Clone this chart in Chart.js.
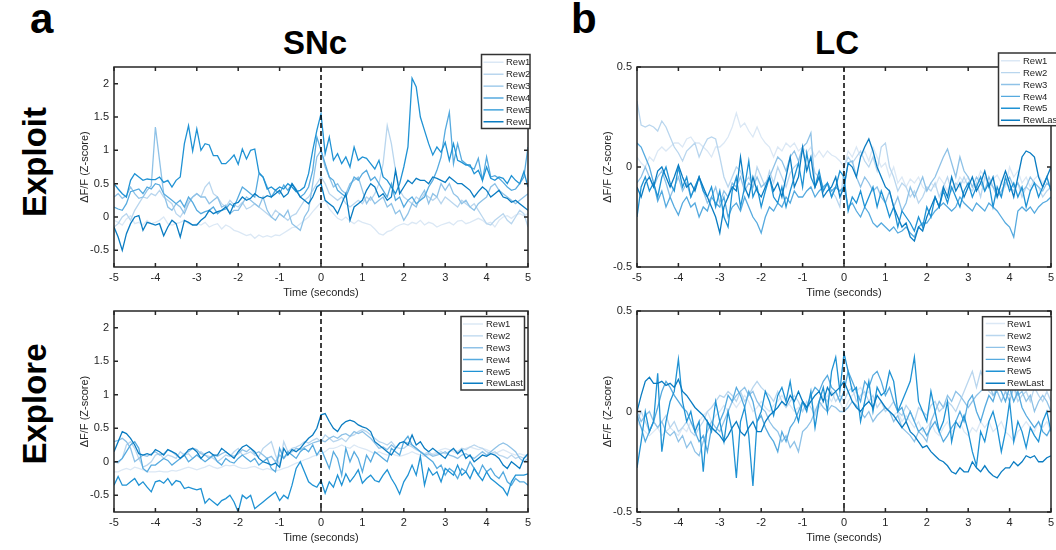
<!DOCTYPE html>
<html>
<head>
<meta charset="utf-8">
<script src="https://cdn.jsdelivr.net/npm/chart.js@4"></script>
<style>
  body { margin: 0; width: 1056px; height: 550px; overflow: hidden; background: #fff; position: relative; }
  canvas { position: absolute; }
  .lbl { position: absolute; font-family: "Liberation Sans", Arial, sans-serif; font-weight: bold; line-height: 1; white-space: nowrap; color: #000; }
  .rot { transform: translate(-50%, -50%) rotate(-90deg); }
</style>
</head>
<body>
<div class="lbl" style="left:30px;top:-2px;font-size:42px">a</div>
<div class="lbl" style="left:571px;top:-2px;font-size:42px">b</div>
<div class="lbl" style="left:315px;top:26px;font-size:33px;transform:translateX(-50%)">SNc</div>
<div class="lbl" style="left:837px;top:26px;font-size:33px;transform:translateX(-50%)">LC</div>
<div class="lbl rot" style="left:34px;top:162px;font-size:33px">Exploit</div>
<div class="lbl rot" style="left:34px;top:404px;font-size:33px">Explore</div>

<canvas id="aTop"></canvas>
<canvas id="aBot"></canvas>
<canvas id="bTop"></canvas>
<canvas id="bBot"></canvas>

<script>
// sampling times (s), shared by all traces
const timeSec = [-5,-4.9,-4.8,-4.7,-4.6,-4.5,-4.4,-4.3,-4.2,-4.1,
  -4,-3.9,-3.8,-3.7,-3.6,-3.5,-3.4,-3.3,-3.2,-3.1,
  -3,-2.9,-2.8,-2.7,-2.6,-2.5,-2.4,-2.3,-2.2,-2.1,
  -2,-1.9,-1.8,-1.7,-1.6,-1.5,-1.4,-1.3,-1.2,-1.1,
  -1,-0.9,-0.8,-0.7,-0.6,-0.5,-0.4,-0.3,-0.2,-0.1,
  0,0.1,0.2,0.3,0.4,0.5,0.6,0.7,0.8,0.9,
  1,1.1,1.2,1.3,1.4,1.5,1.6,1.7,1.8,1.9,
  2,2.1,2.2,2.3,2.4,2.5,2.6,2.7,2.8,2.9,
  3,3.1,3.2,3.3,3.4,3.5,3.6,3.7,3.8,3.9,
  4,4.1,4.2,4.3,4.4,4.5,4.6,4.7,4.8,4.9,5];

const seriesNames = ['Rew1', 'Rew2', 'Rew3', 'Rew4', 'Rew5', 'RewLast'];
const xTicks = [-5, -4, -3, -2, -1, 0, 1, 2, 3, 4, 5];
const yTicksSNc = [-0.5, 0, 0.5, 1, 1.5, 2];
const yTicksLC = [-0.5, 0, 0.5];

// SNc, exploit
const sncExploitRew1 = [-0.05,-0.08,-0.12,-0.03,0.02,-0.1,-0.08,-0.12,-0.05,-0.1,
  -0.08,-0.05,0.0,-0.1,-0.12,-0.1,-0.08,-0.05,-0.1,-0.12,
  -0.1,-0.12,-0.08,-0.15,-0.12,-0.1,-0.18,-0.12,-0.15,-0.2,
  -0.22,-0.25,-0.28,-0.26,-0.32,-0.27,-0.3,-0.28,-0.3,-0.27,
  -0.28,-0.24,-0.2,-0.16,-0.15,-0.1,-0.05,0.0,0.08,0.15,
  0.22,0.25,0.12,0.05,-0.02,-0.05,0.0,-0.06,-0.1,-0.05,
  -0.08,-0.1,-0.12,-0.18,-0.25,-0.27,-0.22,-0.2,-0.15,-0.12,
  -0.1,-0.12,-0.08,-0.1,-0.05,-0.12,-0.08,-0.1,-0.15,-0.12,
  -0.1,-0.08,-0.12,-0.06,-0.05,-0.1,-0.08,-0.05,-0.02,-0.05,
  -0.1,-0.08,-0.15,-0.05,0.0,0.02,-0.02,0.03,0.05,0.02,0.05];
const sncExploitRew2 = [-0.15,-0.1,0.0,0.05,-0.05,0.1,0.2,0.3,0.28,0.35,
  0.32,0.4,0.3,0.25,0.2,0.05,0.0,0.1,0.25,0.3,
  0.35,0.3,0.45,0.52,0.35,0.3,0.2,0.15,0.25,0.18,
  0.15,0.22,0.12,0.15,0.2,0.15,0.1,0.05,0.0,0.1,
  0.05,0.0,-0.05,0.02,0.05,0.15,0.25,0.3,0.4,0.5,
  0.6,0.5,0.35,0.3,0.25,0.3,0.2,0.15,0.2,0.25,
  0.2,0.3,0.25,0.35,0.5,0.8,1.37,1.1,0.7,0.4,
  0.3,0.25,0.2,0.3,0.25,0.35,0.3,0.25,0.3,0.2,
  0.3,0.25,0.2,0.15,0.25,0.2,0.15,0.2,0.1,0.0,
  -0.1,-0.12,-0.05,0.0,0.05,-0.05,-0.1,0.0,0.1,0.05,-0.15];
const sncExploitRew3 = [0.3,0.35,0.28,0.32,0.45,0.35,0.28,0.3,0.4,0.47,
  1.35,0.85,0.35,0.15,0.1,0.2,0.15,0.05,0.2,0.3,
  0.35,0.3,0.3,0.2,0.25,0.3,0.15,0.18,0.05,0.1,
  0.1,0.2,0.3,0.25,0.2,0.15,0.3,0.1,0.0,-0.05,
  0.05,0.0,0.1,-0.1,-0.15,-0.2,0.0,0.1,0.5,0.9,
  1.0,0.75,0.6,0.45,0.5,0.4,0.35,0.5,0.55,0.6,
  0.4,0.2,0.3,0.2,0.25,0.3,0.15,0.2,0.05,0.1,
  -0.05,0.05,0.2,0.15,0.3,0.4,0.2,0.35,0.3,0.5,
  0.4,0.5,0.35,0.3,0.2,0.25,0.15,0.1,0.2,0.25,
  0.3,0.45,0.5,0.4,0.35,0.3,0.25,0.2,0.25,0.3,0.35];
const sncExploitRew4 = [0.15,0.12,0.1,0.2,0.38,0.4,0.42,0.35,0.45,0.42,
  0.5,0.48,0.35,0.3,0.25,0.2,0.25,0.15,0.3,0.22,
  0.1,0.05,0.08,0.1,0.15,0.05,0.1,0.12,0.2,0.15,
  0.3,0.45,0.4,0.35,0.3,0.65,0.6,0.45,0.3,0.4,
  0.35,0.48,0.4,0.5,0.42,0.3,0.35,0.45,0.7,1.2,
  1.0,0.8,0.6,0.55,0.4,0.35,0.3,0.45,0.6,0.55,
  0.65,0.7,0.55,0.6,0.5,0.4,0.3,0.5,0.25,0.3,
  0.15,0.25,0.3,0.2,0.25,0.3,0.45,0.55,0.7,0.9,
  1.3,1.57,0.8,1.1,0.85,0.8,0.75,0.72,0.88,0.55,
  0.9,0.6,0.62,0.58,0.52,0.45,0.4,0.42,0.5,0.6,1.05];
const sncExploitRew5 = [0.5,0.42,0.35,0.3,0.55,0.65,0.6,0.55,0.57,0.56,
  0.56,0.6,0.52,0.55,0.45,0.55,0.6,1.1,1.37,0.99,
  1.32,1.0,1.1,1.08,0.92,0.92,0.8,0.8,0.86,0.93,
  0.79,1.02,0.87,1.0,1.02,0.67,0.6,0.42,0.45,0.4,
  0.45,0.42,0.5,0.45,0.38,0.4,0.45,0.65,1.0,1.3,
  1.55,0.95,1.2,0.85,0.95,0.8,0.9,0.75,1.05,0.85,
  0.9,0.88,0.8,0.72,0.85,0.6,0.55,0.45,0.35,0.5,
  0.75,1.05,2.08,1.95,1.5,1.3,1.1,0.93,1.05,0.97,
  1.12,0.85,1.1,0.85,0.82,0.78,0.78,0.65,0.7,0.55,
  0.75,0.58,0.55,0.6,0.58,0.5,0.62,0.55,0.5,0.68,0.45];
const sncExploitRewLast = [-0.15,-0.3,-0.5,-0.25,-0.1,0.0,0.02,-0.2,-0.08,-0.1,
  -0.12,-0.1,-0.28,-0.15,-0.05,-0.1,-0.3,-0.05,-0.08,-0.12,
  -0.12,-0.05,0.0,0.1,0.05,0.08,0.1,0.15,0.05,0.2,
  0.22,0.3,0.25,0.28,0.35,0.3,0.28,0.32,0.3,0.35,
  0.4,0.3,0.35,0.5,0.4,0.3,0.25,0.2,0.3,0.45,
  0.5,0.25,0.2,0.15,0.05,0.2,0.35,-0.05,0.15,0.2,
  0.25,0.4,0.5,0.45,0.3,0.35,0.25,0.3,0.7,0.35,
  0.45,0.55,0.5,0.58,0.55,0.55,0.5,0.6,0.58,0.55,
  0.52,0.6,0.55,0.5,0.5,0.45,0.4,0.3,0.38,0.45,
  0.4,0.3,0.35,0.4,0.3,0.28,0.22,0.25,0.2,0.15,0.1];

// SNc, explore
const sncExploreRew1 = [-0.15,-0.15,-0.12,-0.1,-0.12,-0.08,-0.1,-0.12,-0.15,-0.15,
  -0.15,-0.14,-0.15,-0.15,-0.13,-0.14,-0.12,-0.1,-0.08,-0.1,
  -0.12,-0.1,-0.08,-0.05,-0.08,-0.1,-0.08,-0.05,-0.06,-0.05,
  -0.08,-0.1,-0.1,-0.08,-0.07,-0.1,-0.12,-0.1,-0.12,-0.14,
  -0.12,-0.1,-0.08,-0.05,-0.02,0.0,0.03,0.05,0.08,0.1,
  0.12,0.15,0.2,0.2,0.22,0.25,0.22,0.2,0.25,0.22,
  0.2,0.18,0.15,0.12,0.15,0.12,0.1,0.12,0.1,0.08,
  0.1,0.12,0.15,0.12,0.1,0.08,0.1,0.12,0.15,0.18,
  0.2,0.18,0.15,0.12,0.15,0.2,0.22,0.2,0.18,0.2,
  0.18,0.15,0.12,0.15,0.18,0.15,0.12,0.1,0.12,0.1,0.1];
const sncExploreRew2 = [0.0,-0.02,0.05,0.25,0.3,0.2,0.05,-0.08,-0.05,0.0,
  0.1,0.12,0.05,0.1,0.08,0.05,0.15,0.1,0.12,0.05,
  0.1,0.15,0.1,0.08,0.05,0.0,0.05,0.1,0.08,0.15,
  0.2,0.1,0.12,0.15,0.1,0.08,0.2,0.25,0.3,0.1,
  -0.05,0.3,0.15,0.2,0.22,0.25,0.3,0.28,0.32,0.35,
  0.3,0.4,0.35,0.3,0.32,0.35,0.3,0.38,0.4,0.45,
  0.48,0.45,0.4,0.35,0.3,0.28,0.25,0.3,0.22,0.2,
  0.2,0.25,0.22,0.18,0.15,0.12,0.15,0.1,0.12,0.15,
  0.12,0.15,0.18,0.15,0.2,0.18,0.22,0.25,0.22,0.2,
  0.15,0.12,0.15,0.1,0.08,0.05,0.1,0.05,0.08,0.05,0.1];
const sncExploreRew3 = [0.3,0.32,0.35,0.3,0.2,0.0,0.05,0.1,0.08,0.12,
  0.15,0.1,0.12,0.18,0.15,0.1,0.05,0.12,0.15,0.2,
  0.18,0.12,0.1,0.05,0.1,0.08,0.12,0.15,0.1,0.08,
  0.12,0.18,0.15,0.2,0.12,0.15,0.1,0.05,0.08,0.0,
  0.1,0.05,0.12,0.15,0.2,0.18,0.22,0.25,0.28,0.3,
  0.32,0.3,0.35,0.38,0.35,0.4,0.42,0.38,0.45,0.42,
  0.45,0.4,0.35,0.28,0.2,0.22,0.18,0.25,0.2,0.28,
  0.3,0.28,0.25,0.2,0.15,0.1,0.12,0.08,0.1,0.12,
  0.15,0.1,0.08,0.05,0.1,0.12,0.08,0.05,0.1,0.15,
  0.1,0.15,0.2,0.25,0.28,0.25,0.2,0.15,0.05,0.0,0.05];
const sncExploreRew4 = [0.0,0.0,0.05,0.15,0.25,0.3,0.2,-0.1,-0.15,-0.05,
  -0.05,0.0,0.05,0.02,-0.05,0.0,0.05,0.1,0.0,0.05,
  0.1,0.05,0.0,0.05,0.1,0.0,-0.05,0.05,0.0,-0.02,
  0.05,0.1,0.05,0.0,0.05,-0.05,0.0,0.05,-0.1,-0.15,
  0.2,0.05,0.15,0.1,0.05,0.15,0.2,0.15,0.25,0.1,
  0.2,0.05,-0.1,0.15,0.05,-0.2,0.2,0.0,0.15,0.05,
  -0.15,0.1,0.0,0.15,0.1,0.05,0.0,0.2,0.15,0.1,
  0.3,0.38,0.25,0.2,0.15,0.1,0.05,0.0,-0.1,-0.05,
  -0.2,-0.1,-0.15,-0.25,-0.1,-0.15,0.0,-0.1,-0.2,-0.05,
  -0.15,-0.1,-0.2,-0.25,-0.15,-0.3,-0.35,-0.25,-0.3,-0.3,-0.35];
const sncExploreRew5 = [-0.35,-0.22,-0.35,-0.35,-0.3,-0.25,-0.35,-0.3,-0.38,-0.45,
  -0.3,-0.28,-0.32,-0.25,-0.35,-0.28,-0.3,-0.4,-0.38,-0.4,
  -0.42,-0.4,-0.62,-0.55,-0.6,-0.65,-0.58,-0.55,-0.5,-0.6,
  -0.75,-0.5,-0.55,-0.5,-0.7,-0.65,-0.6,-0.55,-0.5,-0.45,
  -0.58,-0.5,-0.55,-0.35,-0.1,0.0,-0.15,-0.3,-0.35,-0.38,
  -0.28,-0.47,-0.3,-0.38,-0.2,-0.35,-0.18,-0.3,-0.22,-0.12,
  -0.32,-0.25,-0.2,-0.28,-0.3,-0.2,-0.12,-0.25,-0.35,-0.48,
  -0.3,-0.2,-0.05,-0.2,0.08,-0.35,-0.1,-0.2,-0.15,-0.3,
  -0.1,-0.15,-0.2,-0.05,-0.2,-0.15,-0.25,-0.1,-0.2,-0.28,
  -0.15,-0.25,-0.3,-0.35,-0.4,-0.5,-0.3,-0.2,-0.2,-0.2,-0.18];
const sncExploreRewLast = [0.15,0.3,0.45,0.42,0.35,0.25,0.12,0.1,0.12,0.1,
  0.18,0.15,0.1,0.18,0.15,0.12,0.05,0.1,0.18,0.2,
  0.15,0.05,0.12,0.15,0.1,0.1,0.2,0.15,0.1,0.05,
  0.15,0.22,0.25,0.2,0.15,0.05,0.0,-0.02,-0.05,-0.02,
  -0.08,0.2,0.1,0.18,0.15,0.2,0.28,0.35,0.4,0.5,
  0.7,0.72,0.6,0.5,0.45,0.55,0.6,0.62,0.6,0.55,
  0.52,0.5,0.45,0.3,0.25,0.2,0.15,0.1,0.2,0.28,
  0.3,0.25,0.4,0.25,0.3,0.2,0.15,0.2,0.15,0.1,
  0.05,0.15,0.2,0.12,0.18,0.05,0.1,0.0,0.05,0.1,
  0.08,0.12,0.1,0.05,-0.05,-0.1,0.0,-0.05,-0.1,0.05,0.12];

// LC, exploit
const lcExploitRew1 = [0.05,0.02,0.0,0.05,0.03,0.08,0.1,0.08,0.1,0.12,
  0.12,0.1,0.14,0.15,0.12,0.12,0.1,0.08,0.05,0.1,
  0.1,0.12,0.15,0.2,0.27,0.2,0.22,0.18,0.15,0.2,
  0.15,0.12,0.1,0.05,0.1,0.08,0.12,0.1,0.12,0.08,
  0.1,0.07,0.1,0.05,0.08,0.05,0.08,0.06,0.05,0.03,
  0.0,0.08,0.05,0.1,0.05,0.08,0.03,0.1,0.05,0.0,
  0.02,-0.05,0.0,-0.08,-0.05,-0.1,-0.06,-0.08,-0.05,-0.1,
  -0.12,-0.08,-0.1,-0.05,-0.08,-0.12,-0.06,-0.1,-0.05,-0.08,
  -0.05,-0.1,-0.08,-0.02,-0.05,-0.1,-0.06,-0.04,-0.08,-0.1,
  0.0,-0.05,-0.02,-0.08,-0.05,-0.1,-0.06,-0.04,-0.08,-0.05,-0.1];
const lcExploitRew2 = [0.33,0.21,0.2,0.21,0.2,0.18,0.23,0.2,0.15,0.1,
  0.07,0.03,0.08,0.1,0.12,0.05,0.1,0.14,0.15,0.14,
  0.05,-0.05,-0.1,-0.05,0.0,-0.02,-0.08,-0.05,-0.1,0.0,
  -0.05,-0.1,-0.02,-0.08,0.0,-0.05,-0.1,-0.03,0.0,0.02,
  0.08,0.0,0.05,-0.03,-0.05,-0.1,-0.08,-0.12,-0.15,-0.2,
  0.0,0.05,0.02,0.05,0.08,0.03,0.0,0.05,-0.02,0.1,
  0.12,0.0,-0.05,-0.12,-0.08,-0.1,-0.15,-0.12,-0.18,-0.15,
  -0.1,-0.12,-0.08,-0.15,-0.1,-0.05,-0.12,-0.08,-0.1,-0.05,
  -0.1,-0.12,-0.08,-0.15,-0.05,-0.08,-0.1,-0.12,-0.15,-0.08,
  -0.1,-0.12,-0.08,-0.15,-0.1,-0.12,-0.08,-0.1,-0.15,-0.12,-0.1];
const lcExploitRew3 = [-0.08,-0.05,0.0,-0.05,-0.1,-0.05,-0.02,-0.08,-0.15,-0.1,
  -0.05,-0.12,-0.08,-0.15,-0.1,-0.05,-0.12,-0.18,-0.15,-0.1,
  -0.18,-0.12,-0.15,-0.08,-0.1,-0.05,-0.12,-0.08,-0.1,-0.05,
  -0.1,-0.08,-0.05,0.0,0.05,0.03,-0.02,0.05,0.08,0.03,
  0.1,0.12,0.17,-0.1,-0.05,-0.12,-0.08,-0.15,-0.1,-0.12,
  -0.1,0.02,0.03,-0.05,-0.1,-0.05,-0.08,-0.12,-0.1,-0.15,
  -0.18,-0.12,-0.2,-0.15,-0.22,-0.18,-0.1,-0.15,-0.1,-0.05,
  -0.12,-0.08,-0.05,0.0,0.05,0.09,0.02,-0.05,0.05,-0.02,
  -0.05,-0.1,-0.05,-0.08,-0.12,-0.05,-0.1,-0.15,-0.12,-0.08,
  -0.05,-0.1,-0.08,-0.12,-0.1,-0.05,-0.08,-0.1,-0.12,-0.08,-0.1];
const lcExploitRew4 = [0.12,0.1,0.05,0.0,-0.08,-0.17,-0.12,-0.2,-0.15,-0.2,
  -0.24,-0.18,-0.15,-0.2,-0.18,-0.25,-0.2,-0.22,-0.15,-0.18,
  -0.2,-0.15,-0.25,-0.2,-0.18,-0.22,-0.15,-0.2,-0.25,-0.28,
  -0.33,-0.25,-0.2,-0.22,-0.18,-0.2,-0.15,-0.18,-0.12,-0.15,
  -0.15,-0.12,-0.1,-0.15,-0.12,-0.1,-0.08,-0.12,-0.1,-0.12,
  -0.1,-0.2,-0.18,-0.22,-0.25,-0.2,-0.23,-0.28,-0.3,-0.28,
  -0.3,-0.32,-0.3,-0.33,-0.32,-0.3,-0.33,-0.35,-0.3,-0.28,
  -0.28,-0.25,-0.22,-0.2,-0.18,-0.2,-0.22,-0.2,-0.15,-0.18,
  -0.2,-0.22,-0.18,-0.2,-0.22,-0.18,-0.2,-0.22,-0.25,-0.28,
  -0.3,-0.35,-0.22,-0.2,-0.22,-0.2,-0.23,-0.2,-0.18,-0.17,-0.15];
const lcExploitRew5 = [-0.25,-0.1,-0.05,-0.12,-0.08,-0.15,-0.05,0.0,-0.08,-0.12,
  0.0,-0.1,-0.05,-0.15,-0.1,-0.05,-0.12,-0.15,-0.1,-0.2,
  -0.12,-0.25,-0.3,-0.12,-0.05,-0.2,-0.1,0.03,-0.15,-0.1,
  -0.2,-0.12,-0.05,-0.15,-0.18,-0.1,-0.2,-0.12,-0.05,0.02,
  -0.1,0.07,-0.05,-0.1,-0.02,-0.12,-0.08,-0.15,-0.1,-0.02,
  -0.05,-0.22,-0.15,-0.18,-0.12,-0.2,-0.15,-0.1,-0.2,-0.12,
  -0.18,-0.25,-0.2,-0.3,-0.22,-0.25,-0.28,-0.32,-0.25,-0.3,
  -0.2,-0.25,-0.15,-0.2,-0.12,-0.18,-0.1,-0.15,-0.2,-0.12,
  -0.08,-0.15,-0.1,-0.05,-0.12,-0.08,-0.2,-0.1,-0.15,-0.05,
  -0.12,-0.08,-0.15,-0.1,-0.2,-0.12,-0.08,-0.15,-0.1,-0.05,-0.12];
const lcExploitRewLast = [-0.1,-0.15,-0.08,-0.05,-0.1,-0.02,0.0,-0.05,-0.1,-0.05,
  0.01,-0.05,-0.1,-0.08,-0.12,-0.05,-0.1,-0.15,-0.2,-0.25,
  -0.33,-0.2,-0.15,-0.1,-0.12,0.05,-0.1,-0.15,-0.05,-0.12,
  -0.15,-0.1,-0.05,-0.12,-0.08,-0.15,-0.05,0.05,-0.1,-0.05,
  0.1,-0.02,0.05,-0.1,-0.05,-0.15,-0.12,-0.1,-0.05,-0.15,
  -0.1,0.02,0.0,-0.05,0.05,0.1,0.14,0.08,0.0,-0.05,
  -0.1,-0.12,-0.2,-0.25,-0.3,-0.28,-0.35,-0.37,-0.3,-0.32,
  -0.25,-0.2,-0.15,-0.2,-0.1,-0.15,-0.05,-0.12,-0.08,-0.15,
  -0.1,-0.05,-0.12,-0.08,-0.02,-0.1,-0.05,-0.15,-0.08,-0.02,
  -0.08,-0.15,-0.05,0.05,0.08,0.07,0.05,-0.05,-0.1,-0.05,0.0];

// LC, explore
const lcExploreRew1 = [-0.05,-0.08,-0.1,-0.12,-0.1,-0.08,-0.12,-0.1,-0.08,-0.1,
  -0.12,-0.08,-0.1,-0.05,-0.08,-0.05,-0.02,0.0,-0.05,-0.02,
  0.0,0.03,0.0,0.05,0.02,0.05,0.08,0.05,0.0,0.02,
  0.05,0.02,0.0,0.03,0.05,0.08,0.05,0.03,0.0,0.02,
  0.0,0.03,0.05,0.0,0.02,0.05,0.08,0.05,0.1,0.05,
  0.0,0.05,0.08,0.1,0.12,0.08,0.1,0.05,0.08,0.05,
  0.02,0.0,-0.02,0.0,-0.05,-0.02,-0.05,-0.08,-0.05,-0.1,
  -0.08,-0.05,-0.1,-0.12,-0.08,-0.05,-0.1,-0.08,-0.05,-0.1,
  -0.12,-0.08,-0.1,-0.05,-0.08,-0.05,-0.1,-0.08,-0.05,-0.1,
  -0.12,-0.15,-0.1,-0.08,-0.05,-0.08,-0.1,-0.05,-0.08,-0.05,-0.1];
const lcExploreRew2 = [-0.05,0.0,-0.05,-0.1,-0.05,-0.08,-0.05,-0.02,-0.08,-0.05,
  -0.1,-0.08,-0.05,-0.1,-0.12,-0.08,-0.05,0.0,0.02,0.05,
  0.08,0.07,0.1,0.08,0.05,0.1,0.05,0.08,0.12,0.15,
  0.12,0.1,0.08,0.05,0.1,0.05,0.02,0.05,0.08,0.05,
  0.0,0.05,0.02,-0.02,0.05,0.08,0.05,0.1,0.05,0.08,
  0.05,0.1,0.12,0.05,0.08,0.1,0.05,0.08,0.02,0.05,
  0.0,0.02,0.05,0.0,-0.02,0.03,0.0,-0.05,0.02,0.0,
  -0.02,0.03,0.05,0.0,0.02,0.05,0.03,0.0,0.05,0.1,
  0.15,0.2,0.12,0.2,0.15,0.1,0.08,0.12,0.15,0.1,
  0.08,0.12,0.05,0.08,0.1,0.05,0.12,0.08,0.05,0.1,0.05];
const lcExploreRew3 = [0.0,-0.05,-0.02,0.0,-0.05,-0.08,-0.05,-0.1,-0.12,-0.1,
  -0.15,-0.12,-0.18,-0.15,-0.2,-0.22,-0.15,-0.1,-0.05,-0.08,
  -0.1,-0.05,0.0,0.05,0.08,0.1,0.12,0.08,0.1,0.05,
  0.02,0.0,-0.05,-0.08,-0.1,-0.15,-0.12,-0.18,-0.15,-0.2,
  -0.1,-0.08,-0.05,0.0,0.05,0.02,0.0,0.03,0.02,0.0,
  0.0,0.02,0.05,0.03,0.0,-0.03,0.0,-0.05,-0.02,0.0,
  0.02,0.0,-0.05,-0.02,-0.08,-0.1,-0.12,-0.15,-0.1,-0.12,
  -0.15,-0.05,0.0,0.05,0.02,0.08,0.05,0.1,0.08,0.05,
  0.02,0.05,0.08,0.1,0.12,0.15,0.08,0.1,0.05,0.1,
  0.05,0.12,0.08,0.1,0.05,0.08,0.0,0.05,0.08,0.05,0.0];
const lcExploreRew4 = [-0.02,-0.08,-0.15,-0.1,-0.05,0.02,0.1,0.15,0.12,0.08,
  0.05,0.02,0.0,-0.05,-0.1,-0.15,-0.12,-0.2,-0.08,-0.1,
  -0.05,0.0,0.08,0.05,0.12,0.08,0.02,0.1,0.05,-0.05,
  -0.02,-0.08,-0.12,-0.15,-0.2,-0.1,-0.15,-0.08,-0.05,0.0,
  0.05,0.02,0.08,0.12,0.1,0.15,0.18,0.12,0.1,0.05,
  0.1,0.2,0.15,0.1,0.05,0.15,0.12,0.18,0.2,0.15,
  0.08,0.12,0.05,0.0,0.02,-0.05,0.0,-0.05,-0.1,-0.08,
  -0.12,-0.08,-0.05,-0.1,-0.15,-0.12,-0.08,-0.05,0.0,-0.05,
  0.05,0.08,0.0,-0.05,0.02,0.08,0.05,0.12,0.1,0.05,
  0.12,0.05,0.1,0.02,-0.02,-0.05,-0.08,-0.05,-0.1,-0.12,-0.08];
const lcExploreRew5 = [-0.28,-0.15,0.0,-0.1,-0.05,0.19,-0.2,-0.05,0.05,0.1,
  0.26,0.05,-0.05,0.0,-0.1,-0.05,-0.3,-0.05,-0.1,0.05,
  -0.05,-0.15,0.0,-0.1,-0.33,-0.05,0.02,-0.12,-0.37,-0.05,
  0.0,0.1,0.05,-0.02,0.08,0.12,0.05,0.15,0.02,-0.05,
  0.05,0.0,0.1,-0.08,0.05,0.12,0.0,0.2,0.27,0.1,
  0.29,0.2,0.1,0.12,-0.05,0.05,0.15,0.0,0.12,0.08,
  0.1,0.2,0.15,0.0,0.05,0.1,0.15,0.27,0.05,0.0,
  -0.05,0.1,0.0,-0.1,-0.05,0.05,-0.15,-0.05,-0.08,-0.02,
  -0.1,-0.2,-0.27,-0.1,-0.15,-0.05,0.0,-0.08,-0.2,-0.1,
  0.05,-0.15,-0.05,-0.1,-0.18,-0.08,-0.12,-0.15,-0.05,0.0,-0.1];
const lcExploreRewLast = [0.0,0.08,0.15,0.17,0.14,0.14,0.15,0.13,0.14,0.12,
  0.16,0.1,0.08,0.05,0.02,0.0,-0.02,-0.05,-0.08,-0.1,
  -0.12,-0.15,-0.12,-0.08,-0.05,-0.1,-0.12,-0.08,-0.05,-0.1,
  -0.1,-0.05,-0.02,0.0,0.02,0.05,0.03,0.08,0.05,0.1,
  0.05,0.02,0.05,0.08,0.1,0.05,0.12,0.08,0.1,0.12,
  0.15,0.1,0.05,0.02,0.0,0.03,0.05,0.02,0.08,0.05,
  0.02,0.0,-0.02,-0.05,-0.08,-0.05,-0.1,-0.12,-0.15,-0.18,
  -0.17,-0.2,-0.22,-0.24,-0.25,-0.27,-0.3,-0.31,-0.28,-0.3,
  -0.3,-0.25,-0.28,-0.3,-0.27,-0.3,-0.32,-0.33,-0.3,-0.28,
  -0.28,-0.25,-0.27,-0.25,-0.22,-0.23,-0.22,-0.25,-0.25,-0.23,-0.22];

const FONT = '"Liberation Sans", Arial, sans-serif';
const INK = '#262626';
const lineColors = ['#dbe8f5', '#b9d6ee', '#8fc2e7', '#56aadf', '#1f92d4', '#0a7cc2'];

// room round each plot area inside its canvas
const PAD = { left: 60, top: 20, right: 12, bottom: 42 };

// box, inward ticks, dashed t=0 line and the legend
const framePlugin = {
  id: 'frame',
  afterDatasetsDraw(chart, args, opts) {
    const { ctx, chartArea: a, scales: { x, y } } = chart;
    ctx.save();
    const x0 = x.getPixelForValue(0);
    ctx.strokeStyle = '#000';
    ctx.lineWidth = 1.5;
    ctx.setLineDash([5, 3]);
    ctx.beginPath();
    ctx.moveTo(x0, a.top);
    ctx.lineTo(x0, a.bottom);
    ctx.stroke();
    ctx.setLineDash([]);

    ctx.strokeStyle = INK;
    ctx.lineWidth = 1.5;
    ctx.strokeRect(a.left, a.top, a.right - a.left, a.bottom - a.top);
    ctx.beginPath();
    x.ticks.forEach(t => {
      const p = x.getPixelForValue(t.value);
      ctx.moveTo(p, a.bottom); ctx.lineTo(p, a.bottom - 4);
      ctx.moveTo(p, a.top); ctx.lineTo(p, a.top + 4);
    });
    y.ticks.forEach(t => {
      const p = y.getPixelForValue(t.value);
      ctx.moveTo(a.left, p); ctx.lineTo(a.left + 4, p);
      ctx.moveTo(a.right, p); ctx.lineTo(a.right - 4, p);
    });
    ctx.stroke();

    // legend
    const L = opts.legend;
    if (L) {
      const ox = L.pageX, oy = L.pageY;
      const bx = L.left - ox, by = L.top - oy, bw = L.right - L.left, bh = L.bottom - L.top;
      ctx.fillStyle = '#fff';
      ctx.fillRect(bx, by, bw, bh);
      ctx.save();
      ctx.beginPath();
      ctx.rect(bx, by, bw, bh);
      ctx.clip();
      ctx.font = '9.5px ' + FONT;
      ctx.textBaseline = 'middle';
      ctx.textAlign = 'left';
      chart.data.datasets.forEach((ds, i) => {
        const ry = L.row0 + i * L.rowH - oy;
        ctx.strokeStyle = ds.borderColor;
        ctx.lineWidth = 1.4;
        ctx.beginPath();
        ctx.moveTo(L.lx0 - ox, ry);
        ctx.lineTo(L.lx1 - ox, ry);
        ctx.stroke();
        ctx.fillStyle = INK;
        ctx.fillText(ds.label, L.tx - ox, ry + 0.5);
      });
      ctx.restore();
      ctx.strokeStyle = '#333';
      ctx.lineWidth = 1.5;
      ctx.strokeRect(bx, by, bw, bh);
    }
    ctx.restore();
  }
};

function makePanel(id, area, series, yMin, yMax, yTicks, legend) {
  const cv = document.getElementById(id);
  const left = area.x - PAD.left, top = area.y - PAD.top;
  cv.width = area.w + PAD.left + PAD.right;
  cv.height = area.h + PAD.top + PAD.bottom;
  cv.style.left = left + 'px';
  cv.style.top = top + 'px';
  if (legend) { legend.pageX = left; legend.pageY = top; }

  new Chart(cv, {
    type: 'line',
    data: {
      labels: timeSec,
      datasets: series.map((s, i) => ({
        label: seriesNames[i],
        data: s,
        borderColor: lineColors[i],
        borderWidth: 1.3,
        pointRadius: 0,
        tension: 0,
        fill: false,
        order: series.length - 1 - i
      }))
    },
    options: {
      responsive: false,
      animation: false,
      events: [],
      layout: { padding: { left: 0, top: PAD.top, right: PAD.right, bottom: 0 } },
      plugins: {
        legend: { display: false },
        tooltip: { enabled: false },
        frame: { legend: legend }
      },
      scales: {
        x: {
          type: 'linear', min: -5, max: 5,
          afterFit: s => { s.height = PAD.bottom; },
          afterBuildTicks: s => { s.ticks = xTicks.map(v => ({ value: v })); },
          grid: { display: false, drawTicks: false },
          border: { display: false },
          ticks: { padding: 4, color: INK, autoSkip: false, maxRotation: 0, font: { size: 11, family: FONT }, callback: v => String(v) },
          title: { display: true, text: 'Time (seconds)', color: INK, font: { size: 11, family: FONT }, padding: { top: 0, bottom: 9 } }
        },
        y: {
          type: 'linear', min: yMin, max: yMax,
          afterFit: s => { s.width = PAD.left; },
          afterBuildTicks: s => { s.ticks = yTicks.map(v => ({ value: v })); },
          grid: { display: false, drawTicks: false },
          border: { display: false },
          ticks: { padding: 5, color: INK, autoSkip: false, font: { size: 11, family: FONT }, callback: v => String(v) },
          title: { display: true, text: 'ΔF/F (Z-score)', color: INK, font: { size: 11, family: FONT }, padding: { top: 24, bottom: 0 } }
        }
      }
    },
    plugins: [framePlugin]
  });
}

makePanel('aTop', { x: 114, y: 67, w: 414, h: 200 },
  [sncExploitRew1, sncExploitRew2, sncExploitRew3, sncExploitRew4, sncExploitRew5, sncExploitRewLast],
  -0.75, 2.25, yTicksSNc,
  { left: 481.5, top: 54.5, right: 530, bottom: 128.5, row0: 62.3, rowH: 11.9, lx0: 483.5, lx1: 503.5, tx: 506 });

makePanel('aBot', { x: 114, y: 311, w: 414, h: 201 },
  [sncExploreRew1, sncExploreRew2, sncExploreRew3, sncExploreRew4, sncExploreRew5, sncExploreRewLast],
  -0.75, 2.25, yTicksSNc,
  { left: 461, top: 316.5, right: 524.5, bottom: 390, row0: 324, rowH: 11.85, lx0: 463, lx1: 483, tx: 486 });

makePanel('bTop', { x: 637, y: 67, w: 414.5, h: 200 },
  [lcExploitRew1, lcExploitRew2, lcExploitRew3, lcExploitRew4, lcExploitRew5, lcExploitRewLast],
  -0.5, 0.5, yTicksLC,
  { left: 998.5, top: 53, right: 1068, bottom: 125.7, row0: 60.7, rowH: 11.9, lx0: 1001, lx1: 1020, tx: 1023 });

makePanel('bBot', { x: 637, y: 311, w: 414.5, h: 201 },
  [lcExploreRew1, lcExploreRew2, lcExploreRew3, lcExploreRew4, lcExploreRew5, lcExploreRewLast],
  -0.5, 0.5, yTicksLC,
  { left: 982.5, top: 316.7, right: 1051.3, bottom: 390, row0: 323.5, rowH: 11.95, lx0: 985.7, lx1: 1005, tx: 1007 });
</script>
</body>
</html>
